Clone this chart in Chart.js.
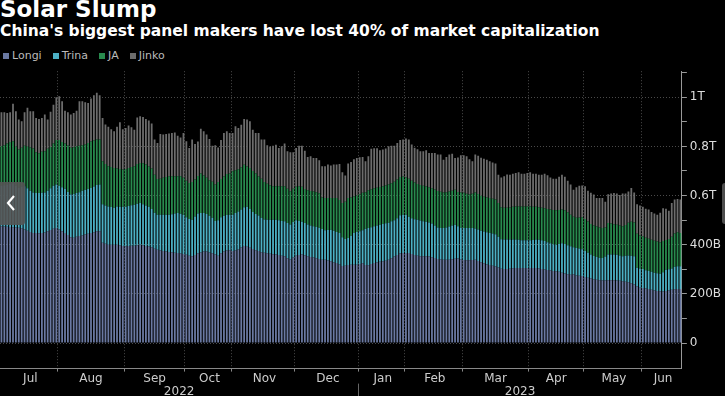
<!DOCTYPE html>
<html>
<head>
<meta charset="utf-8">
<script src="https://cdn.jsdelivr.net/npm/chart.js@4"></script>
<style>
  body { margin: 0; background: #000; width: 725px; height: 396px; overflow: hidden; position: relative; font-family: "DejaVu Sans", sans-serif; }
  #title { position: absolute; left: 0; top: -4px; font-size: 23px; font-weight: bold; color: #fff; white-space: nowrap; }
  #subtitle { position: absolute; left: 0; top: 22px; font-size: 15.5px; font-weight: bold; color: #fff; white-space: nowrap; }
  #legend { position: absolute; left: 3px; top: 49px; font-size: 11px; color: #bbb; white-space: nowrap; }
  #legend span.item { margin-right: 11px; }
  #legend span.box { display: inline-block; width: 6px; height: 6px; margin-right: 3px; vertical-align: 0px; }
  #wrap { position: absolute; left: 0; top: 61px; width: 725px; height: 335px; }
  #navLeft { position: absolute; left: 0; top: 182px; width: 25px; height: 43px; background: rgba(85,85,85,0.9); border-radius: 0 3px 3px 0; }
  #navRight { position: absolute; left: 722px; top: 183px; width: 3px; height: 41px; background: rgba(85,85,85,0.9); border-radius: 3px 0 0 3px; }
</style>
</head>
<body>
<div id="title">Solar Slump</div>
<div id="subtitle">China's biggest panel makers have lost 40% of market capitalization</div>
<div id="legend"></div>
<div id="wrap"><canvas id="solarChart" width="725" height="335"></canvas></div>
<div id="navLeft"><svg width="25" height="43"><polyline points="14,14 8,21 14,28" fill="none" stroke="#fff" stroke-width="2.2"/></svg></div>
<div id="navRight"></div>
<script>
// trading days per month, Jul 2022 - mid Jun 2023
const months = ["Jul", "Aug", "Sep", "Oct", "Nov", "Dec", "Jan", "Feb", "Mar", "Apr", "May", "Jun"];
const monthYears = [2022, 2022, 2022, 2022, 2022, 2022, 2023, 2023, 2023, 2023, 2023, 2023];
const tradingDays = [20, 23, 21, 16, 22, 22, 16, 20, 23, 19, 20, 14];

const seriesNames = ["Longi", "Trina", "JA", "Jinko"];
const seriesColors = ["#6a79a2", "#4cb0c4", "#288a4e", "#6c6c6c"];

// stack tops, in billion yuan
const longiTop = [
    475, 474, 473, 472, 471, 470, 469, 467, 462, 457, 452, 448, 448, 447, 448, 450, 455, 460, 465, 468,
    462, 455, 448, 440, 430, 428, 432, 435, 438, 442, 445, 448, 451, 455, 455, 408, 404, 400, 400, 400,
    400, 398, 395, 394, 395, 396, 396, 398, 400, 398, 395, 393, 390, 384, 380, 377, 374, 372, 370, 369,
    367, 366, 364, 362, 359, 355, 353, 358, 365, 368, 372, 372, 368, 365, 360, 355, 365, 372, 377, 378,
    374, 377, 381, 389, 395, 392, 388, 383, 378, 374, 369, 367, 365, 363, 361, 360, 358, 355, 353, 345,
    340, 348, 355, 358, 360, 357, 353, 350, 348, 345, 342, 339, 339, 336, 333, 328, 326, 320, 313,
    314, 318, 319, 319, 319, 322, 325, 318, 316, 322, 326, 328, 331, 333, 335, 339, 345, 352, 358, 364,
    366, 366, 366, 362, 358, 355, 353, 353, 353, 352, 349, 346, 342, 340, 339, 339, 339, 341, 343, 344,
    340, 338, 337, 337, 338, 339, 334, 329, 325, 320, 318, 314, 311, 307, 302, 301, 301, 302, 304, 305,
    305, 305, 305, 305, 305, 305, 305, 303, 301, 299, 297, 295, 293, 292, 290, 286, 283, 280, 278,
    280, 275, 274, 273, 269, 266, 263, 260, 257, 255, 254, 254, 255, 255, 255, 254, 253, 251, 249, 247,
    243, 238, 230, 225, 224, 222, 220, 217, 214, 212, 211, 210, 212, 214, 217, 219, 220, 220
];
const trinaTop = [
    640, 642, 645, 648, 650, 640, 632, 636, 638, 630, 620, 612, 610, 610, 611, 612, 620, 630, 640, 645,
    640, 634, 628, 615, 604, 606, 610, 614, 620, 624, 627, 631, 637, 643, 645, 565, 560, 556, 553, 550,
    556, 555, 554, 555, 558, 561, 563, 567, 570, 565, 560, 555, 545, 530, 522, 522, 522, 522, 522, 524,
    527, 529, 526, 522, 512, 505, 502, 515, 527, 529, 529, 525, 518, 510, 497, 500, 512, 518, 521, 522,
    522, 529, 535, 543, 552, 555, 545, 533, 525, 519, 510, 503, 502, 502, 502, 502, 500, 497, 495, 488,
    482, 492, 500, 497, 493, 488, 482, 478, 475, 472, 469, 464, 459, 460, 461, 457, 452, 448, 430,
    423, 427, 437, 448, 452, 455, 459, 465, 468, 471, 475, 478, 481, 484, 487, 489, 495, 500, 508, 520,
    522, 522, 514, 508, 504, 502, 499, 496, 493, 490, 486, 478, 470, 468, 468, 470, 474, 478, 481, 475,
    469, 468, 468, 468, 468, 466, 462, 457, 454, 451, 448, 446, 443, 432, 422, 421, 421, 421, 421, 421,
    420, 418, 418, 418, 418, 419, 421, 420, 418, 415, 410, 406, 402, 400, 403, 406, 403, 398, 394,
    390, 387, 385, 382, 374, 367, 360, 354, 350, 347, 346, 352, 360, 360, 360, 359, 356, 353, 355, 356,
    355, 353, 306, 303, 301, 296, 293, 290, 286, 284, 282, 288, 298, 300, 303, 310, 312, 312
];
const jaTop = [
    801, 805, 812, 818, 821, 800, 787, 795, 803, 800, 796, 792, 776, 772, 778, 780, 790, 798, 812, 826,
    826, 818, 812, 804, 795, 797, 801, 803, 805, 808, 814, 820, 824, 828, 828, 740, 728, 719, 716, 712,
    710, 708, 706, 708, 712, 716, 719, 728, 733, 731, 726, 718, 710, 685, 667, 668, 672, 676, 679, 679,
    679, 679, 679, 672, 660, 651, 655, 665, 680, 690, 682, 672, 662, 656, 645, 655, 667, 678, 688, 690,
    699, 703, 707, 715, 725, 718, 712, 700, 690, 678, 668, 655, 648, 642, 638, 638, 638, 638, 638, 628,
    618, 628, 636, 638, 636, 627, 622, 619, 617, 613, 609, 592, 590, 590, 590, 590, 590, 582, 570,
    575, 590, 592, 596, 600, 605, 611, 614, 622, 626, 630, 632, 635, 638, 641, 645, 650, 656, 665, 676,
    678, 674, 668, 660, 653, 647, 643, 640, 637, 634, 630, 625, 619, 616, 612, 613, 617, 620, 624, 615,
    612, 611, 607, 604, 607, 612, 606, 599, 595, 592, 590, 587, 584, 570, 552, 550, 550, 551, 554, 556,
    556, 556, 556, 556, 556, 555, 554, 552, 550, 548, 545, 543, 541, 540, 541, 543, 540, 532, 522,
    514, 510, 511, 512, 505, 494, 484, 478, 474, 470, 468, 470, 488, 486, 483, 481, 478, 475, 480, 489,
    493, 490, 445, 438, 434, 428, 424, 420, 416, 413, 410, 415, 419, 423, 432, 446, 451, 448
];
const jinkoTop = [
    939, 939, 936, 939, 974, 943, 909, 902, 939, 957, 943, 943, 916, 912, 916, 930, 909, 941, 970, 1000,
    1004, 984, 945, 939, 930, 936, 945, 984, 984, 980, 977, 995, 1008, 1018, 1008, 916, 889, 880, 870, 862,
    880, 898, 870, 875, 885, 878, 868, 918, 923, 920, 912, 905, 893, 828, 814, 850, 848, 850, 853, 855,
    857, 843, 836, 855, 821, 794, 828, 810, 820, 872, 862, 848, 830, 803, 805, 796, 826, 855, 862, 855,
    855, 882, 875, 888, 912, 909, 902, 868, 855, 855, 828, 828, 805, 800, 803, 807, 794, 801, 812, 780,
    776, 776, 794, 803, 803, 782, 757, 760, 753, 753, 744, 719, 719, 726, 722, 726, 726, 728, 695,
    682, 730, 737, 748, 753, 756, 757, 740, 760, 790, 793, 793, 784, 787, 792, 801, 803, 803, 814, 826,
    828, 832, 828, 808, 795, 788, 780, 780, 784, 773, 773, 773, 767, 767, 746, 757, 767, 770, 753, 755,
    764, 764, 760, 748, 740, 767, 762, 754, 750, 746, 740, 735, 730, 685, 673, 679, 686, 685, 689, 692,
    695, 689, 689, 692, 695, 689, 689, 685, 685, 689, 683, 673, 668, 668, 677, 685, 677, 660, 645,
    624, 634, 640, 641, 638, 620, 611, 604, 590, 590, 590, 575, 605, 608, 610, 608, 602, 608, 608, 617,
    631, 612, 565, 560, 554, 546, 543, 533, 527, 522, 530, 548, 546, 538, 570, 584, 586, 584
];

const yTickValues = [0, 100, 200, 300, 400, 500, 600, 700, 800, 900, 1000, 1100];
const yLabelValues = [0, 200, 400, 600, 800, 1000];
const yLabelTexts = ["0", "200B", "400B", "0.6T", "0.8T", "1T"];
const years = ["2022", "2023"];

// each company's own value = its stack top minus the one below
const longi = longiTop.slice();
const trina = trinaTop.map((v, i) => v - longiTop[i]);
const ja = jaTop.map((v, i) => v - trinaTop[i]);
const jinko = jinkoTop.map((v, i) => v - jaTop[i]);
const seriesData = [longi, trina, ja, jinko];

const labels = [];
const monthStart = [];
const monthMid = [];
months.forEach((m, k) => {
    monthStart.push(labels.length);
    monthMid.push(labels.length + Math.floor(tradingDays[k] / 2));
    for (let d = 1; d <= tradingDays[k]; d++) {
        labels.push(m + " " + monthYears[k] + " #" + d);
    }
});

// legend
const legend = document.getElementById("legend");
seriesNames.forEach((name, i) => {
    legend.innerHTML += '<span class="item"><span class="box" style="background:' + seriesColors[i] + '"></span>' + name + '</span>';
});

const yearPlugin = {
    id: "yearLabels",
    afterDraw(chart) {
        const ctx = chart.ctx;
        const x = chart.scales.x;
        const area = chart.chartArea;
        const half = (x.getPixelForValue(1) - x.getPixelForValue(0)) / 2;
        const janX = x.getPixelForValue(monthStart[6]) - half;
        ctx.save();
        ctx.strokeStyle = "#666";
        ctx.lineWidth = 1;
        ctx.beginPath();
        ctx.moveTo(Math.round(janX) + 0.5, area.bottom + 15);
        ctx.lineTo(Math.round(janX) + 0.5, chart.height);
        ctx.stroke();
        ctx.fillStyle = "#ccc";
        ctx.font = "12px 'DejaVu Sans'";
        ctx.textAlign = "center";
        ctx.textBaseline = "middle";
        ctx.fillText(years[0], (area.left + janX) / 2, area.bottom + 23);
        ctx.fillText(years[1], (janX + area.right) / 2, area.bottom + 23);
        ctx.restore();
    }
};

new Chart(document.getElementById("solarChart"), {
    type: "bar",
    data: {
        labels: labels,
        datasets: seriesNames.map((name, i) => ({
            label: name,
            data: seriesData[i],
            backgroundColor: seriesColors[i],
            borderWidth: 0,
            barPercentage: 0.62,
            categoryPercentage: 1.0
        }))
    },
    options: {
        responsive: false,
        animation: false,
        layout: { padding: { left: 0, right: 1, top: 0, bottom: 10 } },
        plugins: {
            legend: { display: false },
            tooltip: { enabled: false }
        },
        scales: {
            x: {
                stacked: true,
                grid: {
                    offset: true,
                    color: (c) => monthStart.includes(c.index) && c.index > 0 ? "#4a4a4a" : "rgba(0,0,0,0)",
                    tickColor: (c) => monthStart.includes(c.index) && c.index > 0 ? "#888" : "rgba(0,0,0,0)",
                    tickLength: 3
                },
                border: { color: "#888", dash: [1, 2] },
                ticks: {
                    autoSkip: false,
                    maxRotation: 0,
                    minRotation: 0,
                    padding: 0,
                    color: "#ccc",
                    font: { family: "DejaVu Sans", size: 12 },
                    callback: (value, index) => {
                        const k = monthMid.indexOf(index);
                        return k >= 0 ? months[k] : "";
                    }
                }
            },
            y: {
                stacked: true,
                position: "right",
                min: -104,
                max: 1106,
                afterBuildTicks: (scale) => {
                    scale.ticks = yTickValues.map(v => ({ value: v }));
                },
                grid: {
                    color: (c) => yLabelValues.includes(c.tick.value) ? "#4a4a4a" : "rgba(0,0,0,0)",
                    tickColor: "#999",
                    tickLength: 5
                },
                border: { color: "#999", dash: [1, 2] },
                ticks: {
                    padding: 3,
                    color: "#ddd",
                    font: { family: "DejaVu Sans", size: 12 },
                    callback: (value) => {
                        const k = yLabelValues.indexOf(value);
                        return k >= 0 ? yLabelTexts[k] : "";
                    }
                }
            }
        }
    },
    plugins: [yearPlugin]
});
</script>
</body>
</html>
